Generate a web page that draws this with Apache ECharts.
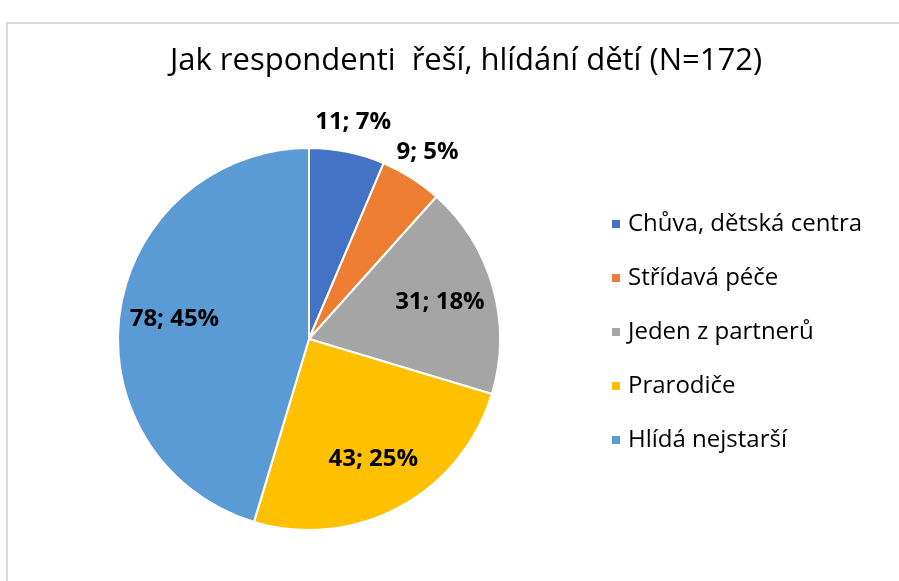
<!DOCTYPE html>
<html lang="cs">
<head>
  <meta charset="UTF-8">
  <title>Jak respondenti řeší hlídání dětí</title>
  <script src="https://cdn.jsdelivr.net/npm/echarts@6/dist/echarts.min.js"></script>
  <style>
    html, body { margin: 0; padding: 0; background: #fff; }
    #app { width: 899px; height: 581px; }
  </style>
</head>
<body>
  <div id="app"></div>
  <script>
    var categories = ['Chůva, dětská centra', 'Střídavá péče', 'Jeden z partnerů', 'Prarodiče', 'Hlídá nejstarší']
    var values = [11, 9, 31, 43, 78]
    // procenta tak, jak je ukazuje původní graf
    var percents = [7, 5, 18, 25, 45]
    var colors = ['#4472C4', '#ED7D31', '#A5A5A5', '#FFC000', '#5B9BD5']
    // které popisky jsou venku (malé výseče)
    var outsideLabel = [true, true, false, false, false]

    var font = '"Open Sans", "Noto Sans", sans-serif'
    var center = [309, 339]

    function labelText(p) {
      return p.value + '; ' + percents[p.dataIndex] + '%'
    }

    var mainData = categories.map(function (name, i) {
      return { name: name, value: values[i], itemStyle: { color: colors[i] } }
    })

    // průhledné kopie koláče jen kvůli umístění popisků
    function labelData(showOutside) {
      return categories.map(function (name, i) {
        return {
          name: name,
          value: values[i],
          label: { show: outsideLabel[i] === showOutside }
        }
      })
    }

    var labelStyle = {
      position: 'inside',
      formatter: labelText,
      fontFamily: font,
      fontSize: 24,
      fontWeight: 'bold',
      color: '#000'
    }

    var mCharts = echarts.init(document.querySelector('#app'))
    var option = {
      animation: false,
      color: colors,
      title: {
        text: 'Jak respondenti  řeší, hlídání dětí (N=172)',
        left: 461,
        textAlign: 'center',
        top: 41,
        textStyle: { fontFamily: font, fontSize: 31, fontWeight: 'normal', color: '#000' }
      },
      legend: {
        orient: 'vertical',
        left: 605,
        top: 204,
        itemWidth: 10,
        itemHeight: 10,
        itemGap: 24,
        icon: 'rect',
        data: categories,
        textStyle: { fontFamily: font, fontSize: 24, color: '#000', padding: [0, 0, 0, 2], lineHeight: 30 }
      },
      graphic: [{
        type: 'rect',
        shape: { x: 7, y: 23, width: 1000, height: 700 },
        style: { fill: 'none', stroke: '#d9d9d9', lineWidth: 2 },
        silent: true
      }],
      series: [
        {
          type: 'pie',
          center: center,
          radius: [0, 191],
          startAngle: 90,
          clockwise: true,
          data: mainData,
          label: { show: false },
          labelLine: { show: false },
          itemStyle: { borderColor: '#fff', borderWidth: 2 },
          emphasis: { disabled: true }
        },
        {
          type: 'pie',
          center: center,
          radius: [0, 266],
          startAngle: 90,
          silent: true,
          data: labelData(false),
          label: labelStyle,
          labelLine: { show: false },
          itemStyle: { color: 'rgba(0,0,0,0)' },
          emphasis: { disabled: true }
        },
        {
          type: 'pie',
          center: center,
          radius: [0, 436],
          startAngle: 90,
          silent: true,
          data: labelData(true),
          label: labelStyle,
          labelLine: { show: false },
          itemStyle: { color: 'rgba(0,0,0,0)' },
          emphasis: { disabled: true }
        }
      ]
    }
    mCharts.setOption(option)
  </script>
</body>
</html>
